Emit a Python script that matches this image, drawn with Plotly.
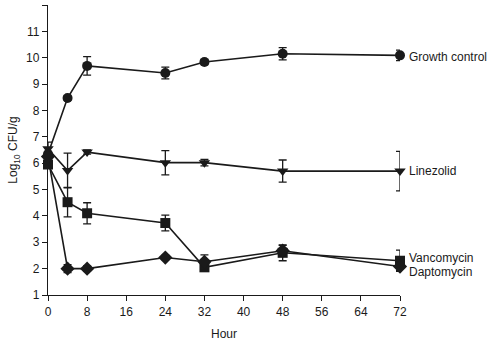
import plotly.graph_objects as go

hours = [0, 4, 8, 24, 32, 48, 72]

growth = [6.35, 8.47, 9.69, 9.42, 9.84, 10.15, 10.09]
growth_err = [0.10, 0.08, 0.35, 0.22, 0.10, 0.23, 0.20]

linezolid = [6.55, 5.72, 6.42, 6.02, 6.02, 5.70, 5.70]
linezolid_err = [0.25, 0.66, 0.08, 0.46, 0.12, 0.42, 0.75]

vancomycin = [5.95, 4.52, 4.10, 3.73, 2.05, 2.60, 2.30]
vancomycin_err = [0.10, 0.56, 0.40, 0.30, 0.08, 0.30, 0.40]

daptomycin = [6.25, 2.00, 2.00, 2.42, 2.26, 2.68, 2.08]
daptomycin_err = [0.15, 0.15, 0.10, 0.08, 0.26, 0.20, 0.15]

series = [
    ("Growth control", growth, growth_err, "circle", 10.04),
    ("Linezolid", linezolid, linezolid_err, "triangle-down", 5.70),
    ("Vancomycin", vancomycin, vancomycin_err, "square", 2.40),
    ("Daptomycin", daptomycin, daptomycin_err, "diamond", 1.86),
]

ink = "#1a1a1a"
fig = go.Figure()
for name, ys, errs, sym, ylab in series:
    fig.add_trace(go.Scatter(
        x=hours, y=ys, mode="lines+markers", name=name,
        line=dict(color=ink, width=1.6),
        marker=dict(symbol=sym, size=10 if sym != "diamond" else 11, color=ink),
        error_y=dict(type="data", array=errs, visible=True, color=ink,
                     thickness=1.3, width=4),
        cliponaxis=False, showlegend=False,
    ))
    fig.add_annotation(x=72, y=ylab, text=name, showarrow=False,
                       xanchor="left", yanchor="middle", xshift=7,
                       font=dict(size=12, color=ink, family="Liberation Sans, Arial"))

fig.update_layout(
    width=488, height=344,
    margin=dict(l=48, r=88, t=5, b=45),
    paper_bgcolor="white", plot_bgcolor="white",
    font=dict(family="Liberation Sans, Arial", size=12, color=ink),
    xaxis=dict(range=[0, 72], tickvals=list(range(0, 73, 8)),
               showline=True, linecolor=ink, linewidth=1.3,
               ticks="outside", ticklen=5, tickcolor=ink, tickwidth=1.2,
               showgrid=False, zeroline=False, tickfont=dict(size=12),
               title=dict(text="Hour", font=dict(size=12), standoff=12)),
    yaxis=dict(range=[1, 12], tickvals=list(range(1, 13)),
               showline=True, linecolor=ink, linewidth=1.3,
               ticks="outside", ticklen=5, tickcolor=ink, tickwidth=1.2,
               showgrid=False, zeroline=False, tickfont=dict(size=12),
               title=dict(text="Log<sub>10</sub> CFU/g", font=dict(size=12), standoff=5)),
)

fig.write_html("out.html")
